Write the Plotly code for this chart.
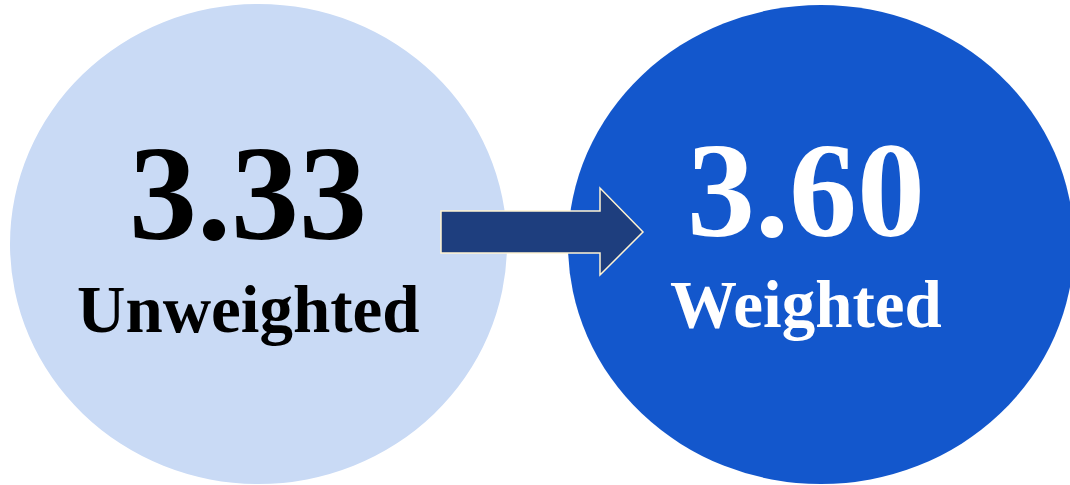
import plotly.graph_objects as go

# Data
labels = ["Unweighted", "Weighted"]
values = [3.33, 3.60]

# Layout constants (pixel-space diagram)
W, H = 1070, 485
circle_boxes = [(10, 507, 4, 484), (568, 1074, 5, 484)]
circle_colors = ["#C9DAF5", "#1357CC"]
text_colors = ["#000000", "#FFFFFF"]
text_cx = [248, 806]
num_cy = [193, 190]
lab_cy = [309, 304]

fig = go.Figure()
fig.add_trace(go.Scatter(x=[0, W], y=[0, H], mode="markers",
                         marker=dict(opacity=0), hoverinfo="skip", showlegend=False))

shapes = []
for (x0, x1, y0, y1), c in zip(circle_boxes, circle_colors):
    shapes.append(dict(type="circle", xref="x", yref="y", x0=x0, x1=x1, y0=y0, y1=y1,
                       fillcolor=c, line=dict(width=0), layer="below"))

# Arrow
ax0, ax_head, ax_tip = 441, 600, 643
by0, by1, hy0, hy1, ty = 211, 253, 188, 275, 232
path = (f"M {ax0},{by0} L {ax_head},{by0} L {ax_head},{hy0} L {ax_tip},{ty} "
        f"L {ax_head},{hy1} L {ax_head},{by1} L {ax0},{by1} Z")
shapes.append(dict(type="path", xref="x", yref="y", path=path,
                   fillcolor="#1E3E7E", line=dict(color="#FFF3D2", width=1.5), layer="above"))

annotations = []
for i, (lab, v) in enumerate(zip(labels, values)):
    annotations.append(dict(x=text_cx[i], y=num_cy[i], xref="x", yref="y",
                            text=f"<b>{v:.2f}</b>", showarrow=False,
                            xanchor="center", yanchor="middle",
                            font=dict(family="Liberation Serif", size=136, color=text_colors[i])))
    annotations.append(dict(x=text_cx[i], y=lab_cy[i], xref="x", yref="y",
                            text=f"<b>{lab}</b>", showarrow=False,
                            xanchor="center", yanchor="middle",
                            font=dict(family="Liberation Serif", size=67, color=text_colors[i])))

fig.update_layout(
    width=W, height=H,
    margin=dict(l=0, r=0, t=0, b=0),
    paper_bgcolor="white", plot_bgcolor="white",
    xaxis=dict(range=[0, W], visible=False, fixedrange=True),
    yaxis=dict(range=[H, 0], visible=False, fixedrange=True),
    shapes=shapes, annotations=annotations,
    showlegend=False,
)

fig.write_html("out.html", config={"displayModeBar": False},
               post_script="document.body.style.margin='0';document.body.style.overflow='hidden';")
